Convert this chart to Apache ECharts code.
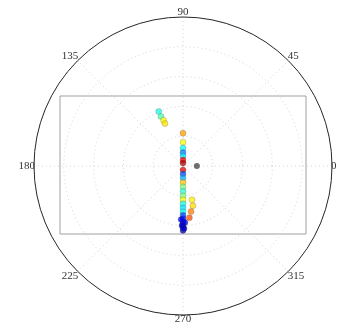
<!DOCTYPE html>
<html>
<head>
<meta charset="utf-8">
<script src="https://cdn.jsdelivr.net/npm/echarts@6/dist/echarts.min.js"></script>
<style>
  html, body { margin: 0; padding: 0; background: #fff; }
  #chart { width: 340px; height: 331px; }
</style>
</head>
<body>
<div id="chart"></div>
<script>
// Angle tick labels (degrees) around the polar frame
const angleTicks = ['0', '45', '90', '135', '180', '225', '270', '315'];

// Main track: angle (deg), radius, colour level (0..1 on a jet scale)
const trackAngle = [
  90, 90, 90, 90, 90, 90, 90,
  270, 270, 270, 270, 270, 270, 270, 270, 270, 270, 270, 270, 270, 270, 270, 270, 270,
  268, 272, 269, 271,
  285, 284, 280, 277,
  114, 114, 113, 113
];
const trackRadius = [
  0.22, 0.16, 0.12, 0.09, 0.067, 0.04, 0.02,
  0.027, 0.053, 0.08, 0.11, 0.14, 0.17, 0.20, 0.227, 0.253, 0.28, 0.307, 0.33, 0.353, 0.373, 0.393, 0.413, 0.433,
  0.36, 0.38, 0.40, 0.42,
  0.235, 0.275, 0.31, 0.35,
  0.40, 0.364, 0.334, 0.31
];
const trackLevel = [
  0.72, 0.62, 0.38, 0.25, 0.35, 0.88, 0.95,
  0.90, 0.20, 0.30, 0.68, 0.50, 0.42, 0.50, 0.62, 0.40, 0.35, 0.38, 0.20, 0.15, 0.10, 0.12, 0.08, 0.05,
  0.12, 0.10, 0.06, 0.08,
  0.64, 0.66, 0.75, 0.80,
  0.40, 0.45, 0.62, 0.65
];

// Reference point
const refAngle = [0];
const refRadius = [0.093];

const trackData = trackAngle.map((a, i) => [trackRadius[i], a, trackLevel[i]]);
const refData = refAngle.map((a, i) => [refRadius[i], a]);

const chart = echarts.init(document.getElementById('chart'), null, { renderer: 'canvas' });

const dotted = { color: '#d4d4d4', width: 1, type: [1, 3] };

chart.setOption({
  backgroundColor: '#ffffff',
  animation: false,
  polar: { center: [183, 166], radius: 149 },
  angleAxis: {
    type: 'value',
    min: 0,
    max: 360,
    interval: 45,
    startAngle: 0,
    clockwise: false,
    axisLine: { show: true, lineStyle: { color: '#2a2a2a', width: 1 } },
    axisTick: { show: false },
    axisLabel: {
      show: true,
      margin: -1,
      fontFamily: 'Liberation Serif',
      fontSize: 11,
      color: '#333',
      formatter: v => (v >= 360 ? '' : angleTicks[Math.round(v / 45)])
    },
    splitLine: { show: true, lineStyle: dotted }
  },
  radiusAxis: {
    type: 'value',
    min: 0,
    max: 1,
    interval: 0.2,
    axisLine: { show: false },
    axisTick: { show: false },
    axisLabel: { show: false },
    splitLine: { show: true, lineStyle: dotted }
  },
  grid: {
    show: true,
    left: 60, top: 96, width: 246, height: 138,
    borderColor: '#a0a0a0', borderWidth: 1,
    backgroundColor: 'transparent'
  },
  xAxis: { show: false, type: 'value', min: 0, max: 1 },
  yAxis: { show: false, type: 'value', min: 0, max: 1 },
  visualMap: {
    show: false,
    type: 'continuous',
    dimension: 2,
    min: 0,
    max: 1,
    seriesIndex: 0,
    inRange: {
      color: ['#00007f', '#0000ff', '#007fff', '#00ffff', '#7fff7f', '#ffff00', '#ff7f00', '#ff0000', '#7f0000']
    }
  },
  series: [
    {
      type: 'scatter',
      coordinateSystem: 'polar',
      data: trackData,
      symbol: 'circle',
      symbolSize: 6,
      itemStyle: { opacity: 0.75, borderColor: 'rgba(60,60,60,0.5)', borderWidth: 0.6 },
      z: 5
    },
    {
      type: 'scatter',
      coordinateSystem: 'polar',
      data: refData,
      symbol: 'circle',
      symbolSize: 6,
      itemStyle: { color: '#555', opacity: 0.85 },
      z: 6
    }
  ]
});
</script>
</body>
</html>
